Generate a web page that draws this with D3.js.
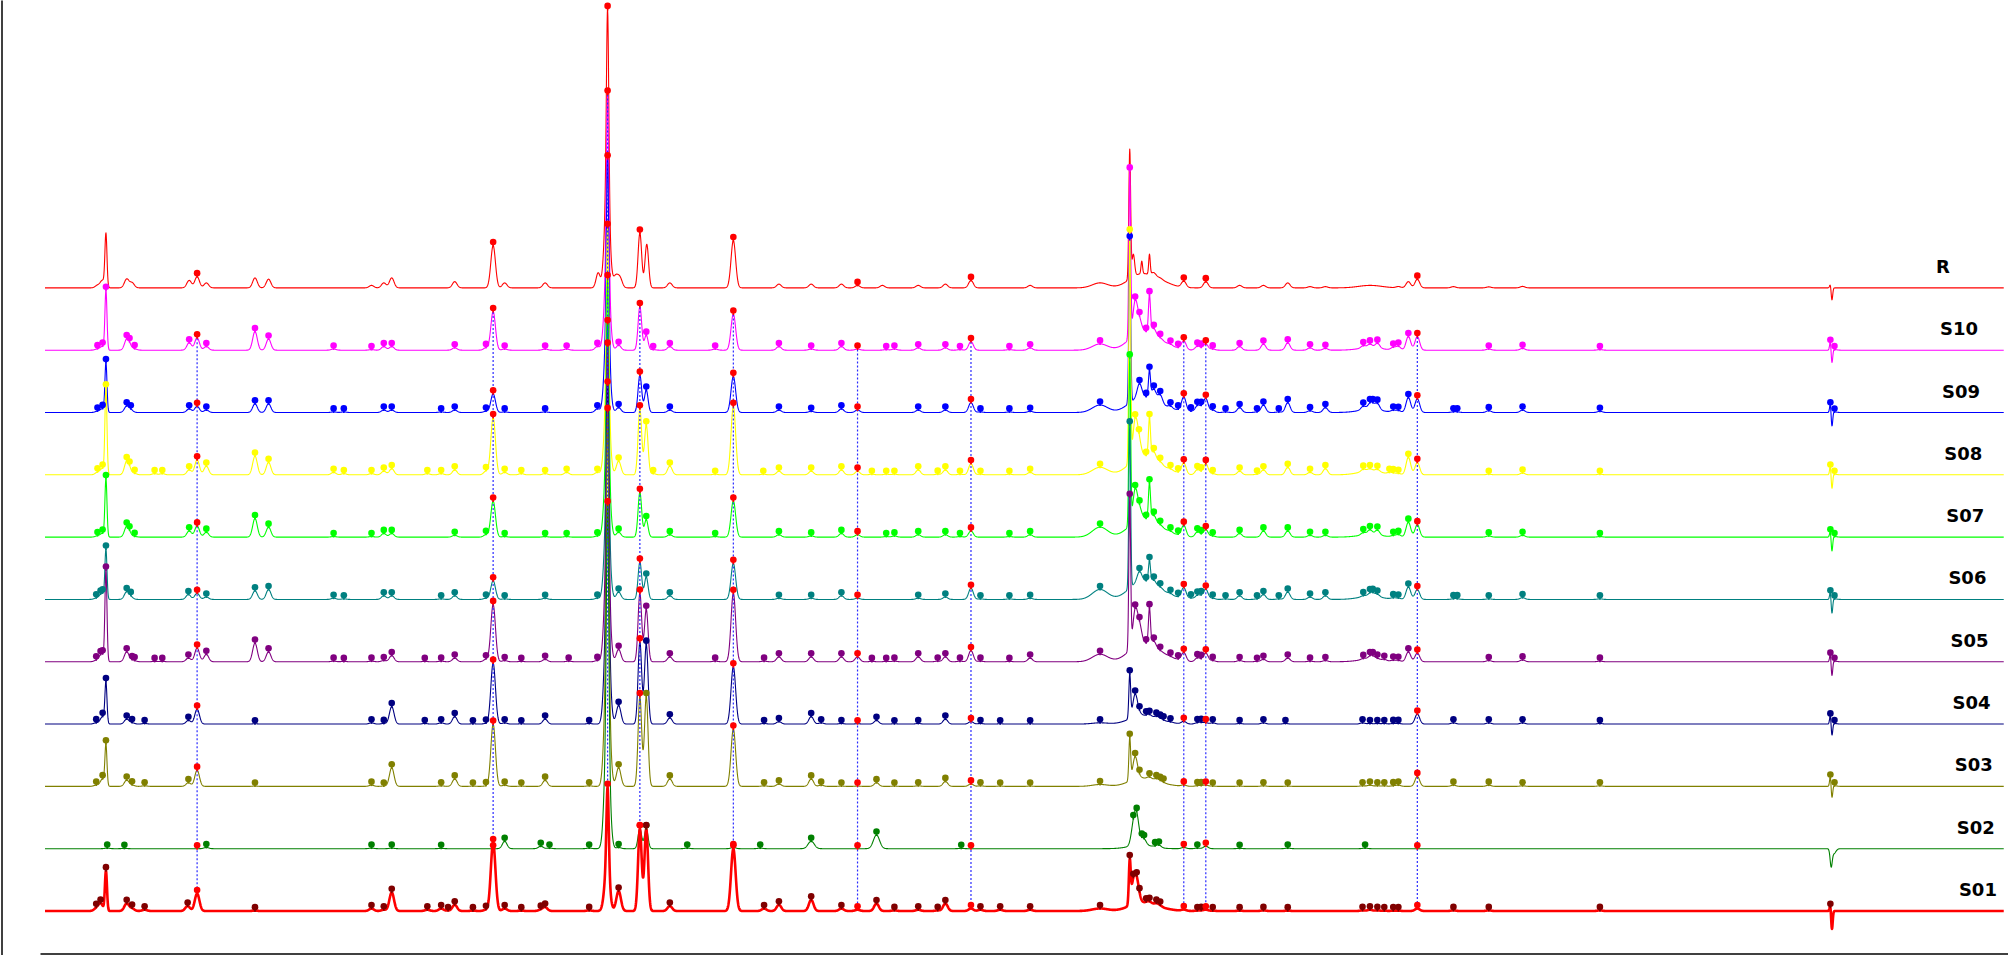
<!DOCTYPE html>
<html>
<head>
<meta charset="utf-8">
<script src="https://cdn.jsdelivr.net/npm/d3@7"></script>
<style>
  html, body { margin: 0; padding: 0; background: #fff; }
  svg { display: block; }
</style>
</head>
<body>
<svg id="chart" width="2008" height="955"></svg>
<script>
// traces from top to bottom
var names = ['R', 'S10', 'S09', 'S08', 'S07', 'S06', 'S05', 'S04', 'S03', 'S02', 'S01'];
var lineColors = ['#ff0000', '#ff00ff', '#0000ff', '#ffff00', '#00ff00', '#008080', '#800080', '#000080', '#808000', '#008000', '#ff0000'];
var markColors = ['#ff0000', '#ff00ff', '#0000ff', '#ffff00', '#00ff00', '#008080', '#800080', '#000080', '#808000', '#008000', '#800000'];

// common peaks (retention time, min)
var sharedTimes = [5.94, 17.5, 21.97, 23.23, 26.88, 31.73, 36.16, 44.47, 45.33, 53.59];

// peak tables: [time (min), height (mAU), sigma (min, optional)]
var peaksR = [
  [2.05,2],[2.25,6],[2.38,42,0.04],[3.19,7],[3.4,4],[5.63,6],[5.94,9],[6.3,4],[8.2,8],[8.73,7],
  [12.75,2],[13.23,4],[13.54,8],[16.0,5],[17.5,34],[17.95,4],[19.53,4],
  [21.6,12,0.08],[21.95,80,0.1],[21.97,145,0.045],[22.28,9],[22.45,8],[23.23,44,0.07],[23.5,35,0.07],[24.4,4],
  [26.88,38],[28.66,3],[29.92,3],[31.1,3],[31.73,2],[32.7,2],[34.1,2],[35.16,3],[36.16,6],[38.47,2],
  [41.2,4,0.3],[42.36,104,0.035],[42.75,10,0.45],[43.5,5,0.45],[42.5,18,0.05],[42.83,10,0.03],[43.13,16,0.03],[43.3,3],[43.55,1],
  [44.47,5],[45.33,5],[46.65,2],[47.58,2],[48.53,4],[49.4,1],[50.0,1],[51.75,2,0.45],[52.85,1],[53.24,5],[53.59,7],
  [55.0,1],[56.38,0.8],[57.7,1.2],[69.72,3,0.03],[69.78,-10,0.03]
];
var peaksS10 = [
  [2.05,1],[2.25,3],[2.38,47,0.04],[3.19,8],[3.3,3],[3.5,1],[5.63,6],[5.94,10],[6.3,3],[8.2,15],[8.73,9],
  [11.27,1],[12.75,0.5],[13.23,3],[13.54,3],[16.0,2],[17.22,2],[17.5,31],[17.95,1],[19.53,1],[20.37,1],[21.57,3],
  [21.95,72,0.1],[21.97,135,0.045],[22.4,4],[23.23,35,0.07],[23.48,12,0.07],[23.75,0.5],[24.4,3],
  [26.17,1],[26.88,29],[28.66,3],[29.92,1],[31.1,3],[31.73,1],[32.85,0.5],[33.17,1],[34.1,2],[35.16,2],[35.73,0.5],[36.16,7],[37.66,0.5],[38.47,2],
  [41.2,5,0.3],[42.36,133,0.035],[42.75,13,0.45],[43.5,6,0.45],[42.57,26],[42.74,9],[43.0,0.5],[43.13,30,0.04],[43.3,6],[43.55,1.5],[43.95,1],[44.25,0.5],[44.47,7],
  [45.0,3],[45.15,1],[45.33,5],[45.6,1],[46.65,3],[47.58,5],[48.53,6],[49.4,2],[50.0,1.5],
  [51.75,2,0.45],[51.48,2],[51.74,3],[52.03,4],[52.65,2],[52.85,3],[53.24,11],[53.59,11],
  [56.38,1],[57.7,1.5],[60.72,0.5],[69.72,7,0.03],[69.78,-11,0.03],[69.88,0.5]
];
var peaksS09 = [
  [2.05,1],[2.25,3],[2.38,39,0.04],[3.19,5],[3.35,2],[5.63,3],[5.94,5],[6.3,2],[8.2,7],[8.73,7],
  [11.27,0.5],[11.67,0.5],[13.23,2],[13.54,2],[15.47,0.5],[16.0,2],[17.22,1],[17.5,15],[17.95,0.5],[19.53,0.5],[21.57,3],
  [21.95,72,0.1],[21.97,133,0.045],[22.4,4],[23.23,30,0.07],[23.48,18,0.07],[24.4,2],
  [26.88,29],[28.66,2],[29.92,1],[31.1,3],[31.73,2],[34.1,2],[35.16,2],[36.16,8],[36.53,0.5],[37.66,0.5],[38.47,1],
  [41.2,6,0.3],[42.36,131,0.035],[42.75,11,0.45],[43.5,5,0.45],[42.74,11],[43.0,0.5],[43.13,21,0.04],[43.3,9],[43.55,7],[43.95,2],[44.25,1],[44.47,12],
  [44.75,1],[45.0,5],[45.15,3],[45.33,11],[45.6,2],[46.1,0.5],[46.65,4],[47.33,0.5],[47.58,6],[48.18,0.5],[48.53,8],[49.4,1.5],[50.0,4],
  [51.75,2.5,0.45],[51.48,3],[51.74,4],[51.85,3],[52.03,5],[52.65,1.5],[52.85,1.5],[53.24,12],[53.59,11],
  [55.0,0.5],[55.15,0.5],[56.38,1.5],[57.7,2],[60.72,1],[69.72,7,0.03],[69.78,-12,0.03],[69.88,0.5]
];
var peaksS08 = [
  [2.05,2],[2.25,5],[2.38,68,0.04],[3.19,10],[3.3,3],[3.5,1],[4.28,1],[4.58,1],[5.63,4],[5.94,12],[6.3,7],[8.2,15],[8.73,10],
  [11.27,2],[11.67,1],[12.75,1],[13.23,3],[13.54,5],[14.93,1],[15.47,1],[16.0,4],[17.22,3],[17.5,46],[17.95,2],[18.6,1],[19.53,1],[20.37,2],[21.57,2],
  [21.95,70,0.1],[21.97,130,0.045],[22.4,11],[23.23,53,0.07],[23.48,40,0.07],[23.75,1],[24.4,7],
  [26.17,0.5],[26.88,55],[28.05,0.5],[28.66,3],[29.92,3],[31.1,4],[31.73,3],[32.29,0.5],[32.85,0.5],[33.17,0.5],[34.1,4],[34.86,0.5],[35.16,4],[35.73,0.5],[36.16,9],[36.53,0.5],[37.66,0.5],[38.47,2],
  [41.2,6,0.3],[42.36,183,0.035],[42.75,13,0.45],[43.5,6,0.45],[42.57,30],[42.72,12],[43.0,1],[43.13,31,0.04],[43.3,7],[43.55,2],[43.95,1],[44.25,0.5],[44.47,9],
  [45.0,4],[45.15,1],[45.33,9],[45.6,1],[46.65,3],[47.33,0.5],[47.58,4],[48.53,6],[49.4,2],[50.0,5],
  [51.75,3,0.45],[51.48,2],[51.74,2],[52.03,2],[52.5,1],[52.65,1],[52.85,1],[53.24,14],[53.59,10],
  [56.38,0.5],[57.7,1.5],[60.72,0.5],[69.72,7,0.03],[69.78,-12,0.03],[69.88,0.5]
];
var peaksS07 = [
  [2.05,1],[2.25,3],[2.38,46,0.04],[3.19,8],[3.3,2],[3.5,0.5],[5.63,5],[5.94,9],[6.3,4],[8.2,15],[8.73,8],
  [11.27,0.5],[12.75,0.5],[13.23,3],[13.54,3],[16.0,1.5],[17.22,2],[17.5,29],[17.95,0.5],[19.53,0.5],[20.37,0.5],[21.57,1],
  [21.95,73,0.1],[21.97,136,0.045],[22.4,4],[23.23,36,0.07],[23.48,14,0.07],[24.4,2],
  [26.17,0.5],[26.88,29],[28.66,2],[29.92,1],[31.1,3],[31.73,2],[32.85,0.5],[33.17,1],[34.1,2],[35.16,2],[35.73,0.5],[36.16,5],[37.66,0.5],[38.47,2],
  [41.2,8,0.3],[42.36,133,0.035],[42.75,13,0.45],[43.5,6,0.45],[42.57,25],[42.74,8],[43.0,0.5],[43.13,29,0.04],[43.3,6],[43.55,1.5],[43.95,1],[44.25,0.5],[44.47,9],
  [45.0,4],[45.15,1],[45.33,6],[45.6,1],[46.65,3],[47.58,5],[48.53,5],[49.4,1.5],[50.0,1.5],
  [51.75,2,0.45],[51.48,2],[51.74,4],[52.03,4],[52.65,1],[52.85,2],[53.24,12],[53.59,10],
  [56.38,1],[57.7,1.5],[60.72,0.5],[69.72,5,0.03],[69.78,-12,0.03],[69.88,0.5]
];
var peaksS06 = [
  [2.0,1],[2.17,1.5],[2.25,4],[2.38,39,0.04],[3.19,6],[3.35,2],[5.6,4],[5.94,5],[6.3,2],[8.2,7],[8.73,8],
  [11.27,1],[11.67,0.5],[13.23,3],[13.54,3],[15.47,0.5],[16.0,3],[17.22,1],[17.5,15],[17.95,0.5],[19.53,1],[21.57,1],
  [21.95,78,0.1],[21.97,145,0.045],[22.4,6],[23.23,30,0.07],[23.48,18,0.07],[24.4,3],
  [26.88,29],[28.66,1],[29.92,1],[31.1,3],[31.73,1],[34.1,1],[35.16,2],[36.16,9],[36.53,0.5],[37.66,0.5],[38.47,1],
  [41.2,8,0.3],[42.36,131,0.035],[42.75,13,0.45],[43.5,6,0.45],[42.74,8],[43.0,0.5],[43.13,17,0.04],[43.3,4],[43.55,1.5],[43.95,1],[44.25,0.5],[44.47,9],
  [44.75,1],[45.0,3],[45.15,2],[45.33,8],[45.6,1],[46.1,0.5],[46.65,3],[47.33,0.5],[47.58,4],[48.18,0.5],[48.53,6],[49.4,2],[50.0,3],
  [51.75,2.5,0.45],[51.48,1],[51.74,2],[51.85,2],[52.03,2],[52.65,1],[52.85,1],[53.24,10],[53.59,8],
  [55.0,0.5],[55.15,0.5],[56.38,0.5],[57.7,1.5],[60.72,0.5],[69.72,6,0.03],[69.78,-12,0.03],[69.88,0.5]
];
var peaksS05 = [
  [2.0,1],[2.17,3],[2.25,4],[2.38,72,0.04],[3.19,8],[3.4,1],[3.5,0.5],[4.28,0.3],[4.58,0.3],[5.6,3],[5.94,11],[6.3,6],[8.2,15],[8.73,8],
  [11.27,0.5],[11.67,0.3],[12.75,0.5],[13.23,1],[13.54,5],[14.83,0.3],[15.47,0.5],[16.0,3],[17.22,2],[17.5,46],[17.95,1],[18.6,0.3],[19.53,2],[20.45,0.5],[21.57,1],
  [21.95,89,0.1],[21.97,166,0.045],[22.4,10],[23.23,55,0.07],[23.48,42,0.07],[24.4,4],
  [26.17,0.5],[26.88,55],[28.08,0.5],[28.66,4],[29.92,4],[31.1,4],[31.73,4],[32.29,0.3],[32.85,0.3],[33.17,0.5],[34.1,4],[34.86,0.5],[35.16,4],[35.73,0.5],[36.16,9],[36.53,0.5],[37.66,0.3],[38.47,3],
  [41.2,6,0.3],[42.36,121,0.035],[42.75,13,0.45],[43.5,6,0.45],[42.57,28],[42.74,14],[43.0,0.5],[43.13,29,0.04],[43.3,5],[43.55,0.5],[43.95,0.5],[44.25,0.5],[44.47,7],
  [45.0,3],[45.15,1],[45.33,7],[45.6,1],[46.65,1],[47.33,0.3],[47.58,2],[48.53,3],[49.4,0.5],[50.0,1],
  [51.75,2,0.45],[51.48,1],[51.74,2],[51.85,2],[52.03,1],[52.3,1],[52.65,1],[52.85,1],[53.24,8],[53.59,7],
  [56.38,1],[57.7,1.5],[60.72,0.5],[69.72,6,0.03],[69.78,-12,0.03],[69.88,0.5]
];
var peaksS04 = [
  [2.0,1],[2.25,6],[2.38,32,0.04],[3.19,4],[3.4,1],[3.89,0.5],[5.6,3],[5.94,12],[8.2,0.3],
  [12.75,1],[13.23,0.5],[13.54,14],[14.83,0.5],[15.47,1],[16.0,6],[16.71,0.3],[17.22,0.5],[17.5,49],[17.95,1],[18.6,0.3],[19.53,4],[21.25,0.5],
  [21.95,96,0.1],[21.97,178,0.045],[22.4,15],[23.23,66,0.07],[23.48,64,0.07],[24.4,5],
  [26.88,46],[28.08,0.5],[28.66,2],[29.92,6],[30.31,1],[31.1,0.5],[31.73,0.3],[32.47,3],[33.17,0.3],[34.1,0.5],[35.16,4],[36.16,2],[36.53,0.5],[37.3,0.3],[38.47,0.3],
  [41.2,1,0.3],[42.36,35,0.035],[42.75,6,0.45],[43.5,2,0.45],[42.57,18],[42.74,2],[43.0,0.5],[43.13,2],[43.4,2],[43.55,1],[43.68,0.5],[43.95,0.5],[44.47,2],
  [45.0,1],[45.15,1],[45.33,1],[45.6,1],[46.65,0.5],[47.58,1],[48.44,0.5],
  [51.45,1],[51.74,0.5],[52.03,0.5],[52.3,0.5],[52.65,0.5],[52.85,0.5],[53.59,8],
  [55.0,1],[56.38,1],[57.7,1],[60.72,0.5],[69.72,7,0.03],[69.78,-10,0.03],[69.88,0.5]
];
var peaksS03 = [
  [2.0,1],[2.25,6],[2.38,32,0.04],[3.19,5],[3.4,1],[3.89,0.5],[5.6,3],[5.94,13],[8.2,0.3],
  [12.75,1],[13.23,0.3],[13.54,15],[15.47,0.5],[16.0,6],[16.71,0.3],[17.22,0.3],[17.5,50],[17.95,1],[18.6,0.3],[19.53,5],[21.25,0.5],
  [21.95,106,0.1],[21.97,197,0.045],[22.4,15],[23.23,72,0.07],[23.48,72,0.07],[24.4,6],
  [26.88,46],[28.08,0.5],[28.66,2],[29.92,6],[30.31,1],[31.1,0.3],[31.73,0.3],[32.47,3],[33.17,0.3],[34.1,0.5],[35.16,4],[36.16,2],[36.53,0.5],[37.3,0.3],[38.47,0.3],
  [41.2,1.5,0.3],[42.36,34,0.035],[42.75,6,0.45],[43.5,2,0.45],[42.57,18],[42.74,1],[43.13,2],[43.4,2],[43.55,1],[43.68,0.5],[44.47,1],
  [45.0,0.5],[45.15,0.5],[45.33,1],[45.6,0.3],[46.65,0.3],[47.58,0.5],[48.53,0.3],
  [51.45,0.5],[51.74,1],[52.03,0.5],[52.3,0.5],[52.65,0.5],[52.85,1],[53.59,8],
  [55.0,1],[56.38,1],[57.7,0.5],[60.72,0.5],[69.72,8,0.03],[69.78,-10,0.03],[69.88,0.5]
];
var peaksS02 = [
  [2.43,0.5],[3.1,0.3],[6.3,1],[12.75,0.5],[13.54,0.5],[15.47,0.3],[17.95,6],[19.36,2],[19.7,0.5],[21.25,0.5],
  [21.95,97,0.1],[21.97,181,0.045],[22.4,1],[23.23,16,0.07],[23.48,16,0.07],[25.08,0.5],[26.88,1],[27.93,0.5],[29.92,6,0.12],[32.47,11,0.12],[35.78,0.3],
  [42.5,14],[42.63,22],[42.83,2],[42.92,4],[43.35,0.5],[43.5,2],[42.8,3,0.45],[44.47,1],[45.0,0.5],[45.33,2],[46.65,0.3],[48.53,0.5],[51.55,0.5],
  [69.75,-13,0.04],[69.85,-4,0.08]
];
var peaksS01 = [
  [2.0,2],[2.17,6],[2.38,32,0.04],[3.19,6],[3.4,2],[3.89,1],[5.57,4],[5.94,14],[8.2,0.3],
  [12.75,2],[13.23,1],[13.54,15],[14.93,1],[15.47,2],[15.74,0.3],[16.0,5],[16.71,0.3],[17.22,1],[17.5,55],[17.95,2],[18.6,0.3],[19.36,1],[19.53,3],[21.25,0.5],
  [21.95,35,0.1],[21.97,65,0.045],[22.4,16],[23.23,66,0.07],[23.48,66,0.07],[24.4,4],
  [26.88,50],[28.08,2],[28.66,5],[29.92,9],[31.1,2],[31.73,1],[32.47,6],[33.17,0.5],[34.1,1],[34.86,0.5],[35.16,6],[36.16,2],[36.53,1],[37.3,1],[38.47,1],
  [41.2,2,0.3],[42.36,33,0.035],[42.75,6,0.45],[43.5,2,0.45],[42.5,16],[42.63,16],[42.74,1],[43.0,0.5],[43.13,2],[43.4,2],[43.55,1],[44.47,1],
  [45.0,0.3],[45.15,0.3],[45.33,1],[45.6,0.3],[46.65,0.3],[47.58,0.5],[48.53,0.3],
  [51.45,0.5],[51.74,1],[52.03,0.5],[52.3,0.3],[52.65,0.3],[52.85,0.3],[53.59,2],
  [55.0,0.5],[56.38,0.5],[60.72,0.5],[69.72,5,0.03],[69.78,-15,0.03]
];

var peakTables = [peaksR, peaksS10, peaksS09, peaksS08, peaksS07, peaksS06, peaksS05, peaksS04, peaksS03, peaksS02, peaksS01];
var stackStep = 50;   // mAU between stacked traces
var timeMax = 76.5;

var svg = d3.select('#chart');

var x = d3.scaleLinear().domain([0, timeMax]).range([45, 2004]);
var y = d3.scaleLinear().domain([0, 731]).range([911, 0]);

function signal(peaks, t) {
    var s = 0;
    for (var k = 0; k < peaks.length; k++) {
        var w = peaks[k][2] || 0.09;
        var d = (t - peaks[k][0]) / w;
        if (d > -6 && d < 6) s += peaks[k][1] * Math.exp(-0.5 * d * d);
    }
    return s;
}

function offsetOf(i) { return (names.length - 1 - i) * stackStep; }

function isShared(t) {
    return sharedTimes.some(function(s) { return Math.abs(s - t) < 0.035; });
}

var times = d3.range(0, timeMax, 0.01);

// axes (plain lines, no ticks)
svg.append('g')
    .attr('transform', 'translate(0,953.5)')
    .call(d3.axisBottom(x.copy().range([40, 2008])).tickValues([]).tickSizeOuter(0))
    .select('.domain').attr('stroke', '#000').attr('stroke-width', 1.5);
svg.append('g')
    .attr('transform', 'translate(1.5,0)')
    .call(d3.axisLeft(y.copy().range([955, 0])).tickValues([]).tickSizeOuter(0))
    .select('.domain').attr('stroke', '#000').attr('stroke-width', 1.5);

// traces
var line = d3.line()
    .x(function(d) { return x(d[0]); })
    .y(function(d) { return y(d[1]); });

var traces = svg.append('g').attr('class', 'traces');
names.forEach(function(name, i) {
    var peaks = peakTables[i];
    var off = offsetOf(i);
    var pts = times.map(function(t) { return [t, off + signal(peaks, t)]; });
    traces.append('path')
        .attr('d', line(pts))
        .attr('fill', 'none')
        .attr('stroke', lineColors[i])
        .attr('stroke-width', name === 'S01' ? 2.6 : 1.1)
        .attr('stroke-linejoin', 'round');
});

// dotted guides through the common peaks (S10 down to S01)
var firstIdx = 1, lastIdx = names.length - 1;
svg.append('g').attr('class', 'guides')
    .selectAll('line')
    .data(sharedTimes)
    .join('line')
    .attr('x1', function(t) { return x(t); })
    .attr('x2', function(t) { return x(t); })
    .attr('y1', function(t) { return y(offsetOf(firstIdx) + signal(peakTables[firstIdx], t)) - 3.5; })
    .attr('y2', function(t) { return y(offsetOf(lastIdx) + signal(peakTables[lastIdx], t)) - 3.5; })
    .attr('stroke', '#2a2aff')
    .attr('stroke-width', 1.2)
    .attr('stroke-dasharray', '2,2');

// peak markers
var marks = [];
names.forEach(function(name, i) {
    var peaks = peakTables[i];
    var off = offsetOf(i);
    if (i > 0) {
        peaks.forEach(function(p) {
            if (p[1] > 0 && (p[2] || 0.09) < 0.4 && !isShared(p[0])) {
                marks.push({ t: p[0], v: off + signal(peaks, p[0]), c: markColors[i] });
            }
        });
    }
});
names.forEach(function(name, i) {
    var peaks = peakTables[i];
    var off = offsetOf(i);
    sharedTimes.forEach(function(t) {
        marks.push({ t: t, v: off + signal(peaks, t), c: '#ff0000' });
    });
});

var mk = svg.append('g').attr('class', 'marks')
    .selectAll('g')
    .data(marks)
    .join('g')
    .attr('transform', function(d) { return 'translate(' + x(d.t) + ',' + y(d.v) + ')'; });
mk.append('line')
    .attr('x1', 0).attr('x2', 0).attr('y1', -3.5).attr('y2', 1)
    .attr('stroke', function(d) { return d.c; })
    .attr('stroke-width', 1.6);
mk.append('circle')
    .attr('cy', -3.5)
    .attr('r', 3.3)
    .attr('fill', function(d) { return d.c; });

// sample labels
svg.append('g').attr('class', 'labels')
    .selectAll('text')
    .data(names)
    .join('text')
    .attr('x', function(d, i) { return i === 0 ? 1943 : 1959 + (i - 1) * 2.1; })
    .attr('y', function(d, i) { return y(offsetOf(i)) - 15; })
    .attr('text-anchor', 'middle')
    .attr('font-family', '"DejaVu Sans", Verdana, sans-serif')
    .attr('font-weight', 'bold')
    .attr('font-size', '18px')
    .attr('fill', '#000')
    .text(function(d) { return d; });
</script>
</body>
</html>
